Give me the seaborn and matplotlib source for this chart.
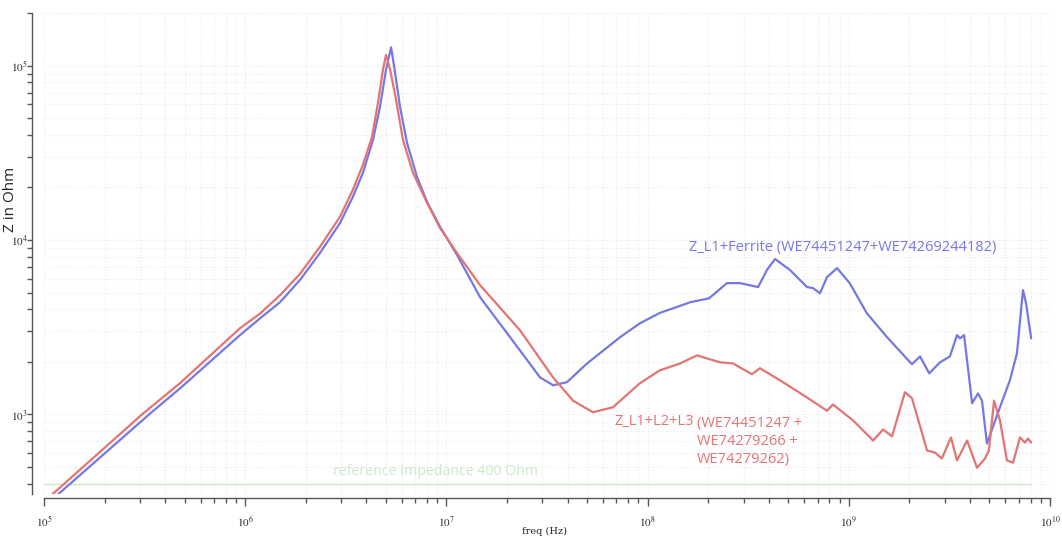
import numpy as np
import pandas as pd
import matplotlib
matplotlib.use("Agg")
import matplotlib.pyplot as plt
import matplotlib.ticker as mticker
import seaborn as sns

# impedance curves (freq in Hz, Z in Ohm)
freq_ferrite = [1.0e5, 3.36e5, 4.74e5, 9.42e5, 1.19e6, 1.49e6, 1.87e6, 2.35e6, 2.96e6, 3.43e6,
                3.85e6, 4.32e6, 4.68e6, 5.01e6, 5.31e6, 5.50e6, 5.88e6, 6.37e6, 7.14e6, 8.02e6,
                9.30e6, 1.13e7, 1.47e7, 2.32e7, 2.92e7,
                3.39e7, 3.97e7, 5.00e7, 7.29e7, 9.16e7, 1.15e8, 1.34e8, 1.63e8, 2.02e8, 2.48e8,
                2.88e8, 3.54e8, 3.92e8, 4.30e8, 5.10e8, 6.20e8, 6.64e8, 7.19e8, 7.79e8, 8.74e8,
                1.01e9, 1.23e9, 1.55e9, 2.06e9, 2.26e9, 2.51e9, 2.84e9, 3.18e9, 3.45e9, 3.57e9,
                3.74e9, 4.10e9, 4.39e9, 4.59e9, 4.86e9, 5.64e9, 6.32e9, 6.85e9, 7.34e9, 7.60e9,
                8.06e9]
z_ferrite = [296, 1010, 1410, 2850, 3570, 4400, 5890, 8410, 12500, 17700,
             24300, 37600, 58100, 94800, 127000, 98600, 58100, 36100, 23000, 16500,
             11900, 8200, 4700, 2330, 1630,
             1470, 1530, 1960, 2770, 3330, 3820, 4060, 4400, 4630, 5660,
             5660, 5370, 6730, 7780, 6730, 5370, 5300, 4950, 6120, 6900,
             5660, 3800, 2770, 1940, 2150, 1720, 1990, 2150, 2850, 2730,
             2850, 1160, 1320, 1200, 681, 1100, 1570, 2240, 5160, 4350,
             2730]

freq_l123 = [1.0e5, 3.10e5, 4.74e5, 9.42e5, 1.19e6, 1.49e6, 1.87e6, 2.35e6, 2.96e6, 3.43e6,
             3.85e6, 4.27e6, 4.57e6, 4.84e6, 5.01e6, 5.25e6, 5.62e6, 6.08e6, 6.82e6, 8.02e6,
             9.30e6, 1.13e7, 1.47e7, 2.32e7, 3.39e7, 4.26e7,
             5.35e7, 6.73e7, 9.16e7, 1.15e8, 1.45e8, 1.76e8, 2.29e8, 2.66e8, 3.30e8, 3.62e8,
             4.55e8, 6.20e8, 7.79e8, 8.34e8, 1.05e9, 1.32e9, 1.48e9, 1.64e9, 1.90e9, 2.06e9,
             2.45e9, 2.68e9, 2.90e9, 3.22e9, 3.45e9, 3.87e9, 4.34e9, 4.75e9, 4.97e9, 5.27e9,
             5.64e9, 6.11e9, 6.55e9, 7.09e9, 7.51e9, 7.78e9, 8.06e9]
z_l123 = [316, 1010, 1510, 3120, 3800, 4830, 6380, 9120, 13600, 19400,
          27000, 39100, 61200, 94800, 115000, 94800, 63800, 37600, 24300, 16300,
          11700, 8410, 5510, 3040, 1630, 1200,
          1030, 1100, 1510, 1790, 1960, 2180, 1990, 1960, 1700, 1840,
          1570, 1250, 1050, 1140, 924, 709, 820, 748, 1340, 1240,
          621, 605, 559, 738, 545, 709, 495, 559, 621, 1200,
          924, 545, 529, 738, 690, 728, 690]

ref_freq = [1.0e5, 8.06e9]
ref_z = [400, 400]

label_ferrite = "Z_L1+Ferrite (WE74451247+WE74269244182)"
label_l123_a = "Z_L1+L2+L3"
label_l123_b = "(WE74451247 +\nWE74279266 +\nWE74279262)"
label_ref = "reference Impedance 400 Ohm"

blue = "#7777e4"
red = "#e27474"
green = "#cce8cc"

sns.set_style("white")
plt.rcParams["font.family"] = ["Open Sans", "DejaVu Sans"]
plt.rcParams["mathtext.fontset"] = "stix"

df_f = pd.DataFrame({"freq": freq_ferrite, "Z": z_ferrite})
df_l = pd.DataFrame({"freq": freq_l123, "Z": z_l123})
df_r = pd.DataFrame({"freq": ref_freq, "Z": ref_z})

fig = plt.figure(figsize=(10.62, 5.37), dpi=100)
ax = fig.add_axes([44 / 1062, 43 / 537, 1006 / 1062, 481 / 537])
ax.set_xscale("log")
ax.set_yscale("log")

sns.lineplot(data=df_r, x="freq", y="Z", color=green, linewidth=1.0, ax=ax)
sns.lineplot(data=df_f, x="freq", y="Z", color=blue, linewidth=1.6, ax=ax)
sns.lineplot(data=df_l, x="freq", y="Z", color=red, linewidth=1.6, ax=ax)

ax.set_xlim(1e5, 1e10)
ax.set_ylim(350, 2.0e5)

# grid
ax.grid(True, which="both", color="#ebebeb", linestyle=":", linewidth=0.8)

# spines
sns.despine(ax=ax)
ax.spines["left"].set_position(("outward", 9))
ax.spines["bottom"].set_position(("outward", 3))
for s in ("left", "bottom"):
    ax.spines[s].set_color("#555555")
    ax.spines[s].set_linewidth(1.0)

sci = mticker.FuncFormatter(lambda v, p: r"$10^{%d}$" % round(np.log10(v)))
ax.xaxis.set_major_locator(mticker.LogLocator(base=10, numticks=12))
ax.yaxis.set_major_locator(mticker.LogLocator(base=10, numticks=12))
ax.xaxis.set_minor_locator(mticker.LogLocator(base=10, subs=np.arange(2, 10), numticks=12))
ax.yaxis.set_minor_locator(mticker.LogLocator(base=10, subs=np.arange(2, 10), numticks=12))
ax.xaxis.set_major_formatter(sci)
ax.yaxis.set_major_formatter(sci)
ax.xaxis.set_minor_formatter(mticker.NullFormatter())
ax.yaxis.set_minor_formatter(mticker.NullFormatter())

ax.tick_params(axis="x", which="major", direction="out", length=6, width=1, color="#555555",
               labelsize=8, pad=6, bottom=True)
ax.tick_params(axis="x", which="minor", direction="out", length=3.5, width=1, color="#555555",
               bottom=True)
ax.tick_params(axis="y", which="both", direction="out", length=3.5, width=1, color="#555555",
               labelsize=8, pad=-1, left=True)

ax.set_xlabel("freq (Hz)", fontsize=7, family="DejaVu Serif")
ax.xaxis.set_label_coords(0.498, -0.069)
ax.set_ylabel("Z in Ohm", fontsize=11)
ax.yaxis.set_label_coords(-0.026, 0.613)

ax.text(1.61e8, 9.0e3, label_ferrite, color=blue, fontsize=10.5, ha="left", va="center")
ax.text(6.81e7, 912, label_l123_a, color=red, fontsize=10.5, ha="left", va="center")
ax.text(1.76e8, 700, label_l123_b, color=red, fontsize=10.5, ha="left", va="center",
        linespacing=1.25)
ax.text(2.73e6, 470, label_ref, color=green, fontsize=10.2, ha="left", va="center")

fig.savefig("out.png", dpi=100)
